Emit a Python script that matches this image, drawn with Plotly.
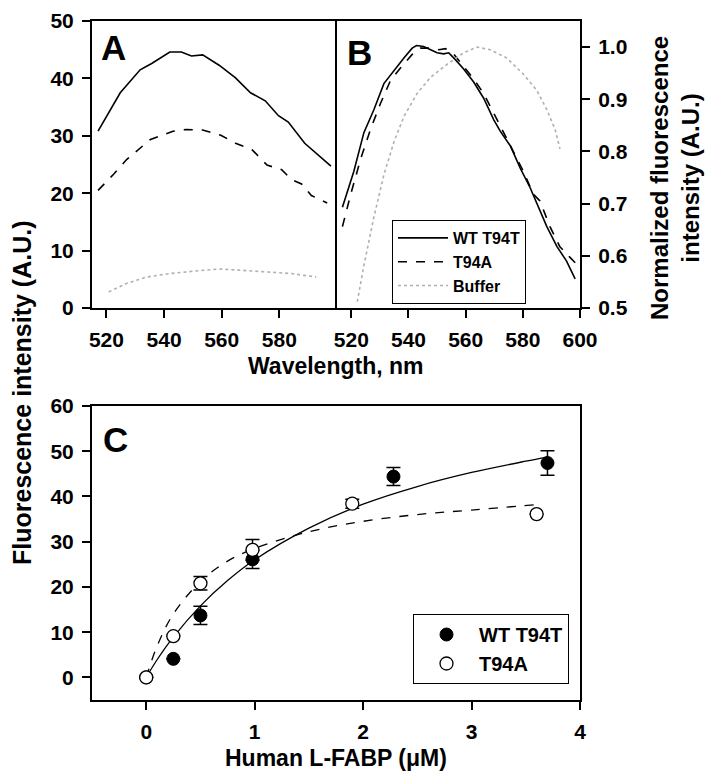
import plotly.graph_objects as go

# panel A: raw emission spectra
a_wt_x = [517.1, 524.8, 531.7, 535.7, 542.0, 546.0, 549.5, 553.4, 559.1, 564.8, 570.0, 575.1, 579.7, 583.1, 588.8, 594.5, 597.9]
a_wt_y = [30.8, 37.5, 41.5, 42.6, 44.6, 44.6, 43.9, 44.1, 42.3, 40.1, 37.5, 36.1, 33.5, 32.4, 28.7, 26.1, 24.7]
a_mut_x = [517.1, 522.5, 527.1, 535.1, 543.1, 547.7, 553.4, 559.7, 564.8, 570.5, 575.7, 580.8, 584.2, 587.7, 591.1, 596.6]
a_mut_y = [20.5, 23.3, 25.9, 29.3, 30.8, 31.1, 31.0, 30.1, 28.7, 27.6, 24.9, 24.1, 22.4, 21.6, 19.6, 18.3]
a_buf_x = [520.8, 527.1, 534.0, 542.0, 550.0, 559.1, 566.0, 575.1, 584.2, 592.8]
a_buf_y = [2.8, 4.3, 5.4, 6.0, 6.4, 6.8, 6.6, 6.3, 6.0, 5.4]

# panel B: normalized spectra
b_wt_x = [516.9, 520.9, 524.4, 527.9, 531.4, 534.9, 538.4, 541.3, 542.8, 545.3, 547.7, 550.0, 552.3, 554.1, 556.4, 559.3,
          562.8, 566.3, 569.8, 572.1, 575.6, 579.1, 582.6, 585.5, 588.4, 591.9, 595.3, 598.3]
b_wt_y = [0.693, 0.762, 0.836, 0.880, 0.930, 0.955, 0.979, 0.998, 1.003, 1.001, 0.995, 0.989, 0.987, 0.989, 0.976, 0.958,
          0.933, 0.902, 0.861, 0.839, 0.811, 0.768, 0.730, 0.693, 0.656, 0.618, 0.590, 0.556]
b_mut_x = [516.9, 519.8, 523.3, 526.7, 530.2, 533.7, 537.8, 541.3, 544.2, 547.7, 550.6, 553.0, 555.8, 558.7, 562.8, 566.3,
           569.8, 573.3, 576.7, 580.2, 583.7, 586.0, 589.5, 592.9, 596.5, 598.8]
b_mut_y = [0.656, 0.718, 0.786, 0.842, 0.892, 0.936, 0.964, 0.986, 0.998, 0.998, 0.995, 0.997, 0.987, 0.967, 0.939, 0.911,
           0.874, 0.836, 0.802, 0.762, 0.718, 0.705, 0.656, 0.618, 0.597, 0.584]
b_buf_x = [522.1, 524.4, 527.9, 531.4, 534.9, 538.4, 543.0, 547.7, 553.5, 559.3, 564.0, 568.6, 574.4, 580.2, 584.9, 588.4, 591.3, 593.0]
b_buf_y = [0.512, 0.581, 0.674, 0.755, 0.818, 0.867, 0.911, 0.942, 0.967, 0.989, 1.0, 0.995, 0.979, 0.948, 0.917, 0.880, 0.842, 0.805]

# panel C: titration
c_wt_x = [0.0, 0.25, 0.5, 0.98, 2.28, 3.7]
c_wt_y = [0.0, 4.1, 13.7, 26.1, 44.4, 47.4]
c_wt_err = [0.0, 0.0, 2.0, 2.0, 2.0, 2.7]
c_mut_x = [0.0, 0.25, 0.5, 0.98, 1.9, 3.6]
c_mut_y = [0.0, 9.1, 20.8, 28.2, 38.4, 36.1]
c_mut_err = [0.0, 0.0, 1.5, 2.3, 1.0, 0.0]

fit_wt_x = [0.0, 0.1, 0.25, 0.5, 0.75, 1.0, 1.5, 2.0, 2.5, 3.0, 3.5, 3.7]
fit_wt_y = [0.0, 3.9, 8.9, 15.8, 21.4, 26.0, 33.0, 38.3, 42.2, 45.3, 47.8, 48.7]
fit_mut_x = [0.0, 0.1, 0.25, 0.5, 0.75, 1.0, 1.5, 2.0, 2.5, 3.0, 3.6]
fit_mut_y = [0.0, 6.9, 14.0, 21.2, 25.7, 28.5, 32.2, 34.5, 36.0, 37.0, 38.2]

FONT = "Liberation Sans, Arial, sans-serif"
grey = "#b0b0b0"

fig = go.Figure()

# A
fig.add_trace(go.Scatter(x=a_wt_x, y=a_wt_y, mode="lines", line=dict(color="black", width=1.6),
                         xaxis="x", yaxis="y", showlegend=False))
fig.add_trace(go.Scatter(x=a_mut_x, y=a_mut_y, mode="lines", line=dict(color="black", width=1.6, dash="dash"),
                         xaxis="x", yaxis="y", showlegend=False))
fig.add_trace(go.Scatter(x=a_buf_x, y=a_buf_y, mode="lines", line=dict(color=grey, width=1.6, dash="dot"),
                         xaxis="x", yaxis="y", showlegend=False))

# B
fig.add_trace(go.Scatter(x=b_wt_x, y=b_wt_y, mode="lines", name="WT T94T", line=dict(color="black", width=1.6),
                         xaxis="x2", yaxis="y2", legend="legend"))
fig.add_trace(go.Scatter(x=b_mut_x, y=b_mut_y, mode="lines", name="T94A",
                         line=dict(color="black", width=1.6, dash="dash"), xaxis="x2", yaxis="y2", legend="legend"))
fig.add_trace(go.Scatter(x=b_buf_x, y=b_buf_y, mode="lines", name="Buffer",
                         line=dict(color=grey, width=1.6, dash="dot"), xaxis="x2", yaxis="y2", legend="legend"))

# C
fig.add_trace(go.Scatter(x=fit_wt_x, y=fit_wt_y, mode="lines", line=dict(color="black", width=1.3, shape="spline"),
                         xaxis="x3", yaxis="y3", showlegend=False))
fig.add_trace(go.Scatter(x=fit_mut_x, y=fit_mut_y, mode="lines",
                         line=dict(color="black", width=1.3, dash="dash", shape="spline"),
                         xaxis="x3", yaxis="y3", showlegend=False))
fig.add_trace(go.Scatter(x=c_wt_x, y=c_wt_y, mode="markers", name="WT T94T",
                         marker=dict(color="black", size=13, line=dict(color="black", width=1)),
                         error_y=dict(type="data", array=c_wt_err, color="black", thickness=1.5, width=7),
                         xaxis="x3", yaxis="y3", legend="legend2"))
fig.add_trace(go.Scatter(x=c_mut_x, y=c_mut_y, mode="markers", name="T94A",
                         marker=dict(color="white", size=13, line=dict(color="black", width=1.3)),
                         error_y=dict(type="data", array=c_mut_err, color="black", thickness=1.5, width=7),
                         xaxis="x3", yaxis="y3", legend="legend2"))

# the page adds an 8px body margin, so the figure is 16px smaller and positions are shifted
OFF = 8
W, H = 714 - 2 * OFF, 780 - 2 * OFF
def px(v):
    return (v - OFF) / W
def py(v):
    return 1 - (v - OFF) / H

axis_common = dict(showline=True, linecolor="black", linewidth=2, mirror=True, ticks="outside",
                   ticklen=8, tickwidth=2, tickcolor="black", showgrid=False, zeroline=False,
                   ticklabelstandoff=4, automargin=False, ticklabeloverflow="allow",
                   tickfont=dict(size=21, family=FONT, color="black", weight="bold"))
ya_common = dict(axis_common)
ya_common["mirror"] = False

fig.update_layout(
    width=W, height=H,
    margin=dict(l=0, r=0, t=0, b=0, autoexpand=False),
    paper_bgcolor="white", plot_bgcolor="white",
    font=dict(family=FONT, color="black", weight="bold"),
    xaxis=dict(domain=[px(92), px(337)], range=[515, 600], tickvals=[520, 540, 560, 580], anchor="y", **axis_common),
    yaxis=dict(domain=[py(308), py(21)], range=[0, 50], tickvals=[0, 10, 20, 30, 40, 50], anchor="x", **ya_common),
    xaxis2=dict(domain=[px(337), px(580)], range=[515, 600], tickvals=[520, 540, 560, 580, 600], anchor="y2",
                **axis_common),
    yaxis2=dict(domain=[py(308), py(21)], range=[0.5, 1.05], tickvals=[0.5, 0.6, 0.7, 0.8, 0.9, 1.0],
                tickformat=".1f", side="right", anchor="x2", **axis_common),
    xaxis3=dict(domain=[px(92), px(580)], range=[-0.5, 4], tickvals=[0, 1, 2, 3, 4], anchor="y3", **axis_common),
    yaxis3=dict(domain=[py(700), py(406)], range=[-5, 60], tickvals=[0, 10, 20, 30, 40, 50, 60], anchor="x3",
                **axis_common),
    legend=dict(x=px(392), y=py(220), xanchor="left", yanchor="top", bordercolor="black", borderwidth=1,
                bgcolor="white", itemwidth=50, font=dict(size=16, family=FONT, weight="bold"), tracegroupgap=0),
    legend2=dict(x=px(413), y=py(614), xanchor="left", yanchor="top", bordercolor="black", borderwidth=1,
                 bgcolor="white", itemwidth=55, font=dict(size=20, family=FONT, weight="bold")),
)

annots = [
    dict(text="A", x=px(99), y=py(48), font=dict(size=35)),
    dict(text="B", x=px(345), y=py(52), font=dict(size=35)),
    dict(text="C", x=px(101), y=py(439), font=dict(size=35)),
]
for a in annots:
    a.update(xanchor="left", yanchor="middle")

annots += [
    dict(text="Wavelength, nm", x=px(336), y=py(366), xanchor="center", yanchor="middle", font=dict(size=23)),
    dict(text="Human L-FABP (μM)", x=px(336), y=py(758), xanchor="center", yanchor="middle", font=dict(size=23)),
    dict(text="Fluorescence intensity (A.U.)", x=px(22), y=py(393), textangle=-90, xanchor="center",
         yanchor="middle", font=dict(size=25)),
    dict(text="Normalized fluorescence<br>intensity (A.U.)", x=px(675), y=py(178), textangle=-90, xanchor="center",
         yanchor="middle", font=dict(size=24)),
]
for a in annots:
    a["font"].update(family=FONT, color="black", weight="bold")
    fig.add_annotation(xref="paper", yref="paper", showarrow=False, **a)

fig.write_html("out.html")
